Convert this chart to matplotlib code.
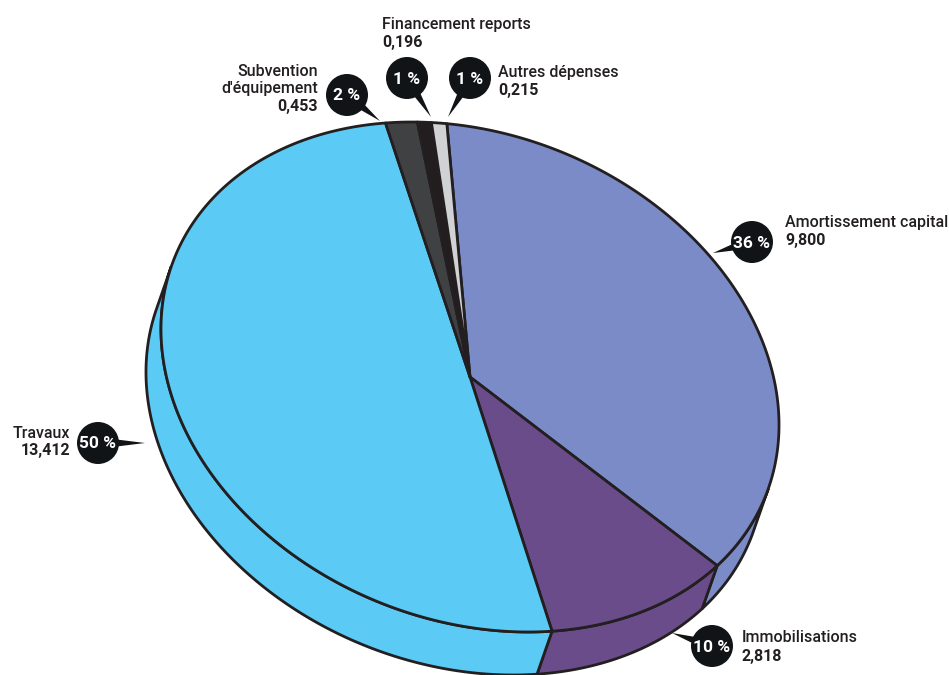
import numpy as np
import matplotlib.pyplot as plt
from matplotlib.patches import Polygon, Circle

# Budget items (millions)
labels = ["Amortissement capital", "Immobilisations", "Travaux",
          "Subvention\nd'équipement", "Financement reports", "Autres dépenses"]
values = [9.800, 2.818, 13.412, 0.453, 0.196, 0.215]
colors = ["#7B8BC8", "#6A4C8B", "#5BCBF5", "#3F4143", "#221E1F", "#D1D2D4"]

# Callout layout (pixels): bubble centre, tail tip, text anchor, alignment
bubble_xy = [(752, 242), (712, 646), (98, 443), (347, 95), (407, 78), (470, 78)]
tip_xy = [(713, 253), (672, 633), (145, 443), (380, 121), (431, 117), (448, 117)]
text_xy = [(785, 222), (742, 638), (70, 433), (318, 71), (382, 25), (498, 72)]
text_ha = ["left", "left", "right", "right", "left", "left"]

FONT = ["Roboto", "DejaVu Sans"]
INK = "#231F20"

# Tilted pie geometry
CX, CY = 470, 377
A, B = 318.6, 242.9
TILT = np.radians(22.1)
DEPTH = np.array([-15.0, 43.0])
START = 248.5


def rim(phi):
    p = np.radians(phi)
    ex, ey = A * np.cos(p), B * np.sin(p)
    x = CX + ex * np.cos(TILT) - ey * np.sin(TILT)
    y = CY + ex * np.sin(TILT) + ey * np.cos(TILT)
    return np.column_stack([x, y])


def facing(phi):
    p = np.radians(phi)
    nx, ny = np.cos(p) / A, np.sin(p) / B
    sx = nx * np.cos(TILT) - ny * np.sin(TILT)
    sy = nx * np.sin(TILT) + ny * np.cos(TILT)
    return sx * DEPTH[0] + sy * DEPTH[1] > 0


fig = plt.figure(figsize=(9.49, 6.75), dpi=100)
ax = fig.add_axes([0, 0, 1, 1])
ax.set_xlim(0, 949)
ax.set_ylim(675, 0)
ax.axis("off")

total = sum(values)
bounds = START + 360 * np.concatenate([[0], np.cumsum(values) / total])
edge = dict(edgecolor=INK, linewidth=2.0, joinstyle="round")

for i, col in enumerate(colors):
    phis = np.linspace(bounds[i], bounds[i + 1], 400)
    # top face
    top = np.vstack([[CX, CY], rim(phis)])
    ax.add_patch(Polygon(top, closed=True, facecolor=col, zorder=3, **edge))
    # visible outer wall
    idx = np.flatnonzero(facing(phis))
    if len(idx) == 0:
        continue
    runs = np.split(idx, np.flatnonzero(np.diff(idx) > 1) + 1)
    for run in runs:
        arc = rim(phis[run])
        side = np.vstack([arc, arc[::-1] + DEPTH])
        ax.add_patch(Polygon(side, closed=True, facecolor=col, zorder=2, **edge))

# Callout bubbles and labels
R = 21
for i, v in enumerate(values):
    c = np.array(bubble_xy[i], float)
    t = np.array(tip_xy[i], float)
    u = (t - c) / np.linalg.norm(t - c)
    n = np.array([-u[1], u[0]])
    tail = [c + u * R * 0.7 + n * 4, t, c + u * R * 0.7 - n * 4]
    ax.add_patch(Polygon(tail, closed=True, facecolor="#111416",
                         edgecolor="none", zorder=4))
    ax.add_patch(Circle(c, R, facecolor="#111416", edgecolor="none", zorder=4))
    ax.text(c[0], c[1] + 1, f"{round(v / total * 100)} %", color="white",
            fontsize=12.5, fontweight="bold", family=FONT,
            ha="center", va="center", zorder=5)

    x, y = text_xy[i]
    lines = labels[i].split("\n")
    for k, line in enumerate(lines):
        ax.text(x, y + 18 * k, line, color=INK, fontsize=11.5,
                fontweight="medium", family=FONT, ha=text_ha[i], va="center")
    ax.text(x, y + 18 * len(lines), f"{v:.3f}".replace(".", ","), color=INK,
            fontsize=11.5, fontweight="bold", family=FONT,
            ha=text_ha[i], va="center")

fig.savefig("out.png", dpi=100)
